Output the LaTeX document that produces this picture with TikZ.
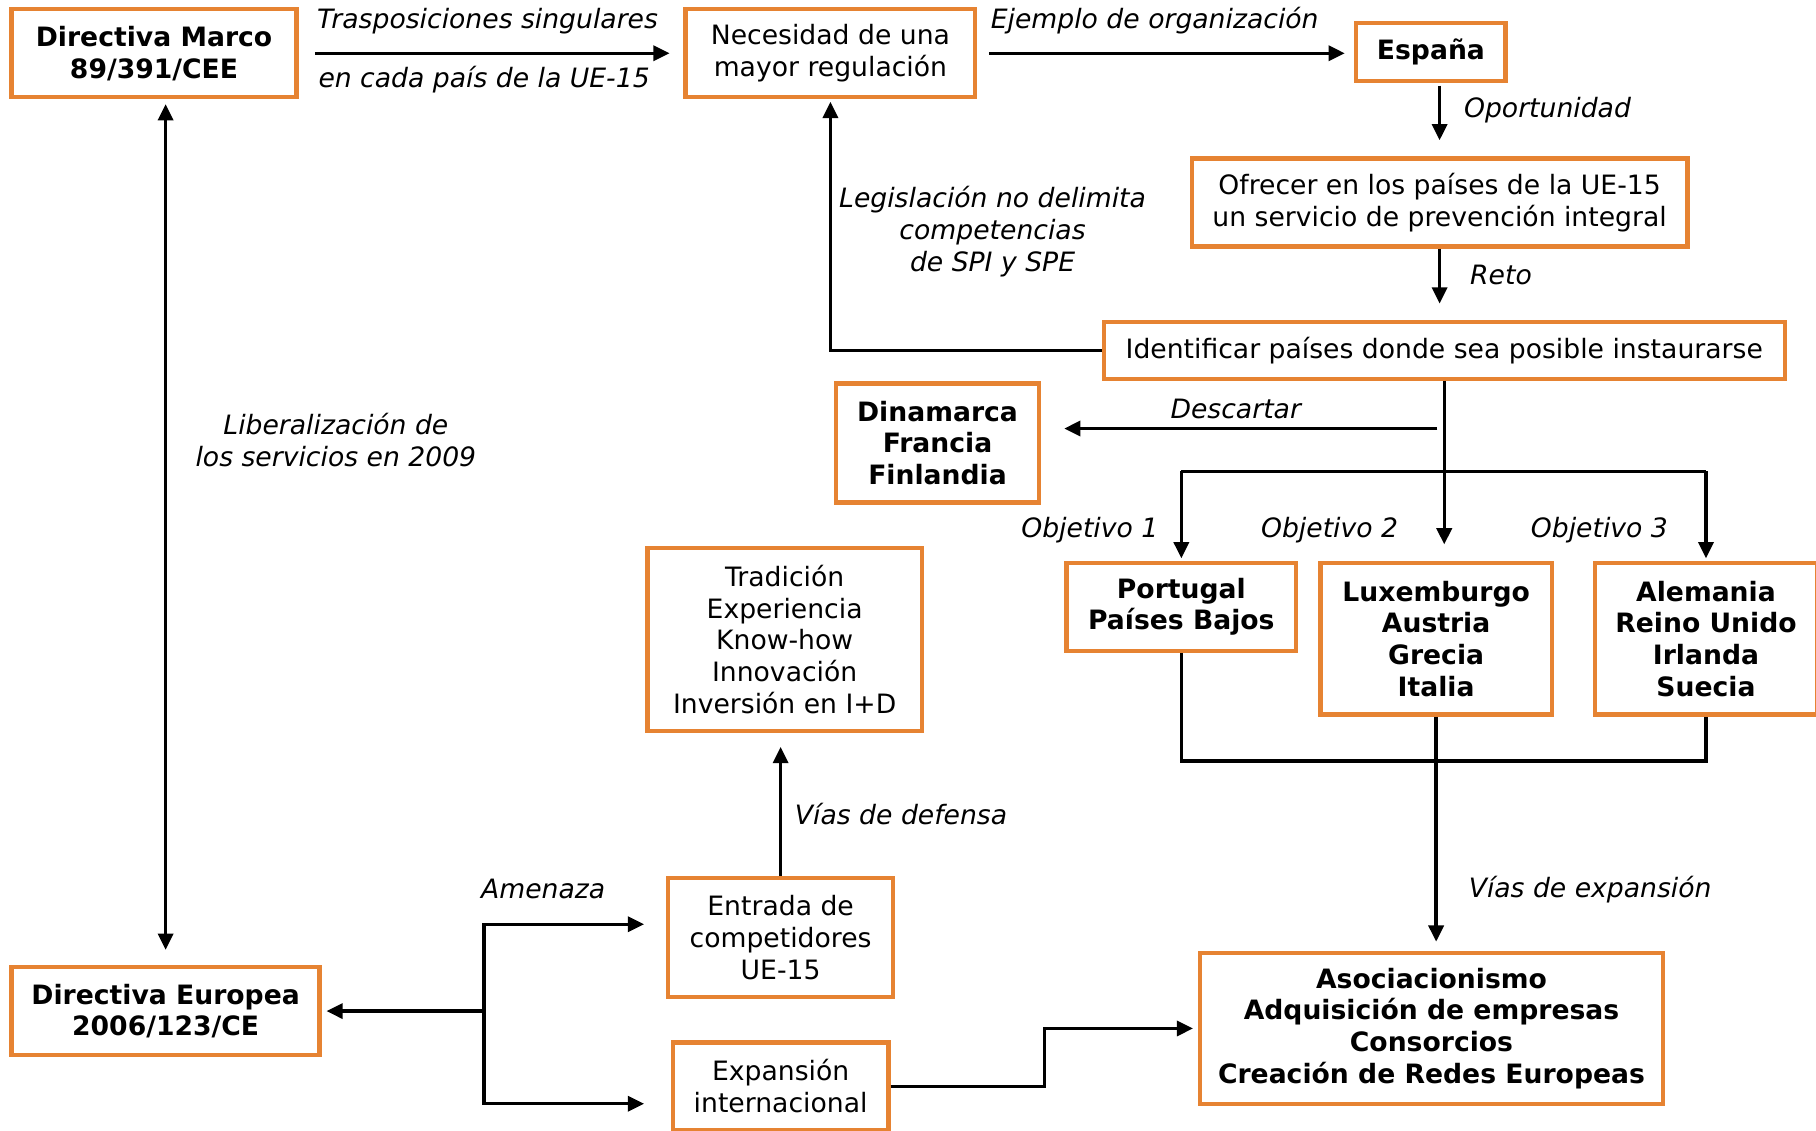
\documentclass[tikz,border=0pt]{standalone}
\usepackage{fontspec}
\setmainfont{DejaVu Sans}
\usetikzlibrary{shapes,arrows,positioning}
\usetikzlibrary{arrows.meta}
\usetikzlibrary{calc}
\definecolor{boxorange}{RGB}{230,131,50}

\begin{document}
\begin{tikzpicture}
    [x=50pt,y=50pt,line width=1.45pt,
     every node/.style={font=\fontsize{11.5}{13.7}\selectfont},
     box/.style={draw=boxorange,line width=1.9pt,fill=white,align=center,inner sep=0pt},
     bbox/.style={box,font=\fontsize{11.5}{13.7}\selectfont\bfseries},
     lbl/.style={font=\fontsize{11.5}{13.7}\selectfont\itshape,align=center},
     arr/.style={-{Triangle[length=7pt,width=6.5pt]}},
     dbl/.style={{Triangle[length=7pt,width=6.5pt]}-{Triangle[length=7pt,width=6.5pt]}}]
    \fill[white] (0,0) rectangle (15.68,9.76);
    \useasboundingbox (0,0) rectangle (15.68,9.76);
    % boxes
    \node[bbox,minimum width=123pt,minimum height=38pt] (dmarco) at (1.33,9.30) {Directiva Marco\\89/391/CEE};
    \node[box,minimum width=125pt,minimum height=38pt] (necesidad) at (7.17,9.30) {Necesidad de una\\mayor regulación};
    \node[bbox,minimum width=64.5pt,minimum height=25pt] (espana) at (12.355,9.31) {España};
    \node[box,minimum width=214pt,minimum height=38pt] (ofrecer) at (12.43,8.01) {Ofrecer en los países de la UE-15\\un servicio de prevención integral};
    \node[box,minimum width=294pt,minimum height=24.5pt] (identificar) at (12.47,6.735) {Identificar países donde sea posible instaurarse};
    \node[bbox,minimum width=87.5pt,minimum height=51.5pt] (descarte) at (8.095,5.935) {Dinamarca\\Francia\\Finlandia};
    \node[bbox,minimum width=99pt,minimum height=38pt] (obja) at (10.20,4.52) {Portugal\\Países Bajos};
    \node[bbox,minimum width=100pt,minimum height=65.5pt] (objb) at (12.40,4.245) {Luxemburgo\\Austria\\Grecia\\Italia};
    \node[bbox,minimum width=96pt,minimum height=65.5pt] (objc) at (14.73,4.245) {Alemania\\Reino Unido\\Irlanda\\Suecia};
    \node[box,minimum width=118.5pt,minimum height=79pt] (defensa) at (6.775,4.24) {Tradición\\Experiencia\\Know-how\\Innovación\\Inversión en I+D};
    \node[box,minimum width=97pt,minimum height=51.5pt] (entrada) at (6.74,1.665) {Entrada de\\competidores\\UE-15};
    \node[box,minimum width=93pt,minimum height=38pt] (expansion) at (6.74,0.38) {Expansión\\internacional};
    \node[bbox,minimum width=133pt,minimum height=38pt] (deuropea) at (1.43,1.03) {Directiva Europea\\2006/123/CE};
    \node[bbox,minimum width=200pt,minimum height=65pt] (formas) at (12.36,0.88) {Asociacionismo\\Adquisición de empresas\\Consorcios\\Creación de Redes Europeas};
    % branch points
    \coordinate (reparto) at (12.47,5.69);
    \coordinate (union) at (12.40,3.19);
    \coordinate (amenaza) at (4.18,1.03);
    \coordinate (codo) at (9.02,0.88);
    % connectors
    \draw[arr,shorten <=7pt,shorten >=6pt] (dmarco) -- (necesidad);
    \draw[arr,shorten <=5pt,shorten >=4pt] (necesidad.east) -- (necesidad.east -| espana.west);
    \draw[arr,shorten <=1pt,shorten >=7pt] (ofrecer.north |- espana.south) -- (ofrecer.north);
    \draw[arr,shorten >=7pt] (ofrecer.south) -- (ofrecer.south |- identificar.north);
    \draw[arr,shorten >=1pt] (identificar.west) -| (necesidad.south);
    \draw[arr,shorten >=7pt] (identificar.south) -- (identificar.south |- objb.north);
    \draw[arr,shorten <=3pt,shorten >=10pt] (identificar.south |- 0,6.06) -- (descarte.east |- 0,6.06);
    \draw (obja.north |- reparto) -- (objc.north |- reparto);
    \foreach \n in {obja,objc}
      \draw[arr,shorten >=1pt] (\n.north |- reparto) -- (\n.north);
    \draw (obja.south) |- (union) -| (objc.south);
    \draw[arr,shorten >=4pt] (objb.south) -- (objb.south |- formas.north);
    \draw[dbl,shorten <=2pt,shorten >=6.5pt] (deuropea.north |- dmarco.south) -- (deuropea.north);
    \draw[arr,shorten >=6pt] (entrada.north) -- (entrada.north |- defensa.south);
    \draw[arr,shorten >=2pt] (amenaza) -- (deuropea.east);
    \draw[arr,shorten >=9.5pt] (amenaza) |- ($(entrada.west)+(0,0.115)$);
    \draw[arr,shorten >=11.5pt] (amenaza) |- ($(expansion.west)+(0,-0.15)$);
    \draw[arr,shorten >=2pt] (expansion.east) -| (codo) |- (formas.west);
    % labels
    \node[lbl] (trasp) at (4.21,9.58) {Trasposiciones singulares};
    \node[lbl] (cada) at (4.18,9.07) {en cada país de la UE-15};
    \node[lbl] (ejemplo) at (9.97,9.58) {Ejemplo de organización};
    \node[lbl,anchor=west] (oport) at (12.56,8.81) {Oportunidad};
    \node[lbl] (reto) at (12.96,7.39) {Reto};
    \node[lbl] (legis) at (8.57,7.76) {Legislación no delimita\\competencias\\de SPI y SPE};
    \node[lbl] (descartar) at (10.67,6.23) {Descartar};
    \foreach \x/\n in {9.41/1,11.48/2,13.81/3}
      \node[lbl] (objlbl\n) at (\x,5.18) {Objetivo \n};
    \node[lbl] (expvias) at (13.73,2.08) {Vías de expansión};
    \node[lbl] (liberal) at (2.90,5.96) {Liberalización de\\los servicios en 2009};
    \node[lbl] (defvias) at (7.78,2.73) {Vías de defensa};
    \node[lbl] (amen) at (4.69,2.08) {Amenaza};
\end{tikzpicture}
\end{document}
